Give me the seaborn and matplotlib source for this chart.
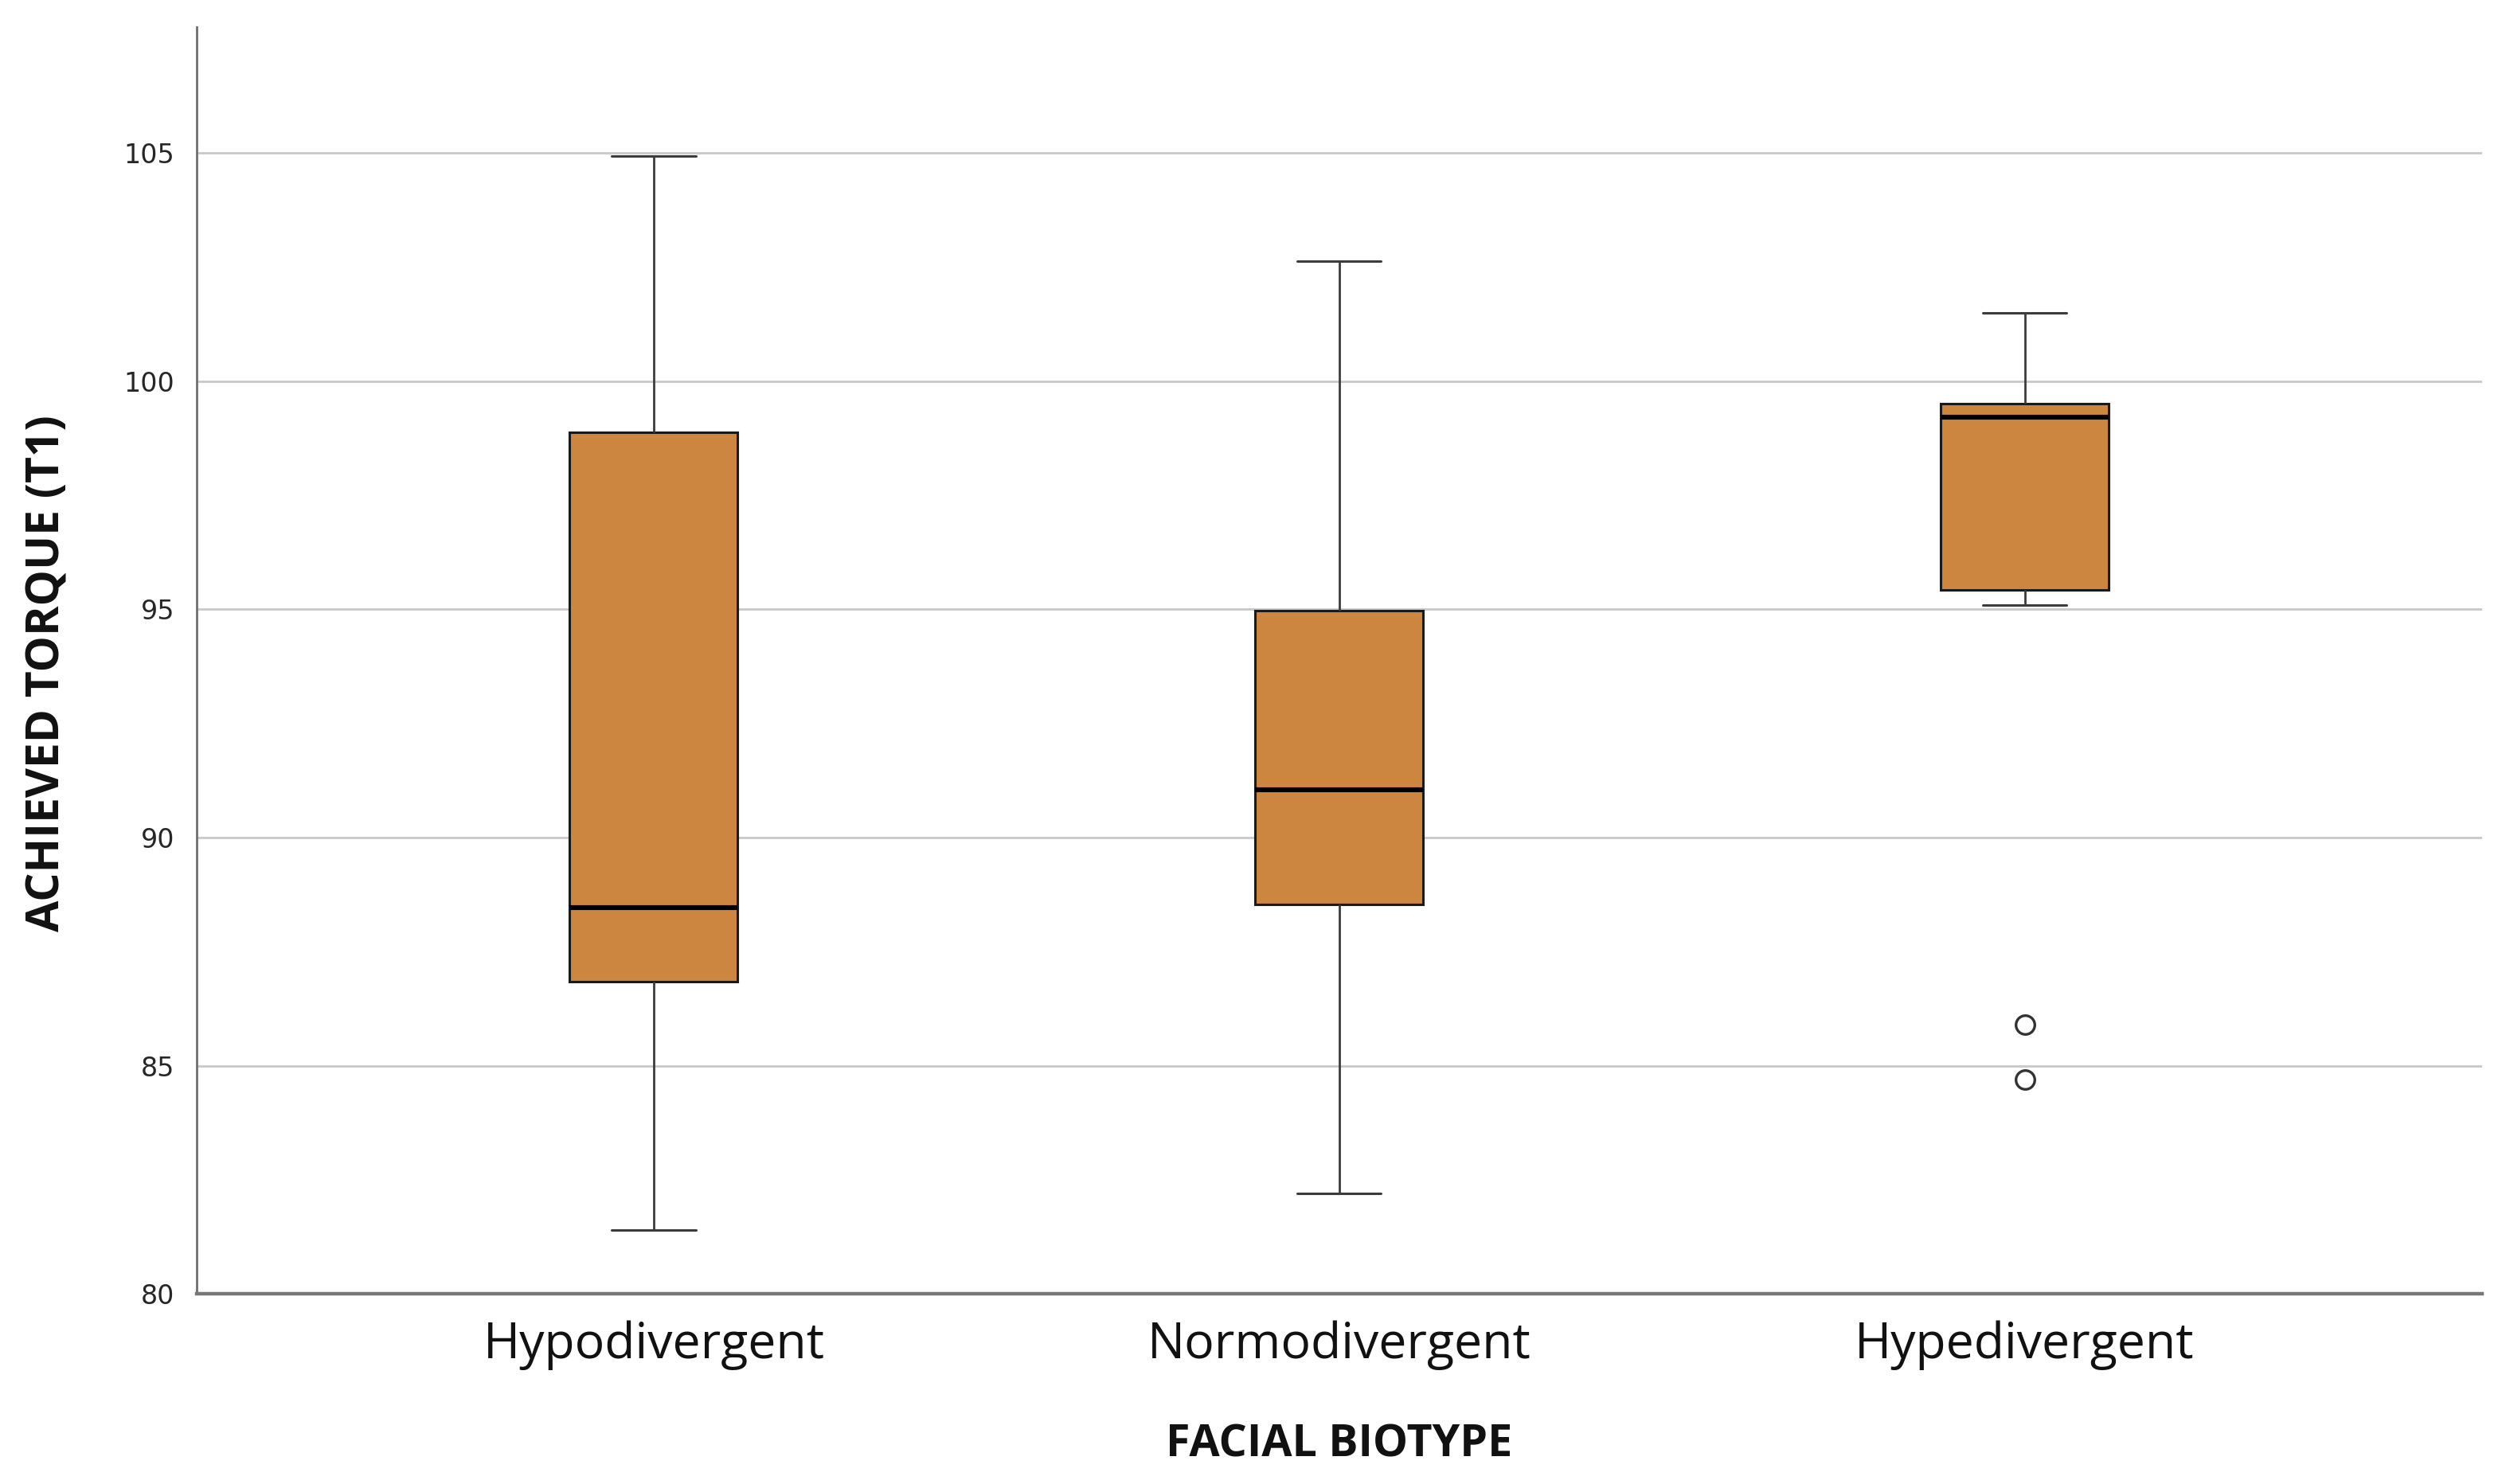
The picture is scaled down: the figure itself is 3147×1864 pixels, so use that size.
import pandas as pd
import matplotlib
matplotlib.use("Agg")
import matplotlib.pyplot as plt
import seaborn as sns

# values
categories = ["Hypodivergent", "Normodivergent", "Hypedivergent"]
whisker_low = [81.4, 82.2, 95.1]
q1 = [86.85, 88.53, 95.42]
median = [88.46, 91.05, 99.2]
q3 = [98.88, 94.97, 99.51]
whisker_high = [104.93, 102.62, 101.5]
outlier_group = ["Hypedivergent", "Hypedivergent"]
outlier_values = [85.9, 84.69]
y_ticks = [80, 85, 90, 95, 100, 105]

# five-number summary per group, in long form for seaborn
rows = []
for i, cat in enumerate(categories):
    for v in [whisker_low[i], q1[i], median[i], q3[i], whisker_high[i]]:
        rows.append({"biotype": cat, "torque": v})
df = pd.DataFrame(rows)

sns.set_theme(style="white")
plt.rcParams["font.family"] = ["Open Sans", "DejaVu Sans"]

fig = plt.figure(figsize=(3147 / 200, 1864 / 200), dpi=200)
ax = fig.add_axes([0.0784, 0.128, 0.912, 0.854])

sns.boxplot(data=df, x="biotype", y="torque", order=categories, whis=(0, 100),
            width=0.245, color="#cd863f", saturation=1, ax=ax,
            boxprops=dict(edgecolor="#1a1a1a", linewidth=1.1),
            medianprops=dict(color="black", linewidth=2.2),
            whiskerprops=dict(color="#3c3c3c", linewidth=1.0),
            capprops=dict(color="#3c3c3c", linewidth=1.1),
            zorder=3)

sns.stripplot(x=outlier_group, y=outlier_values, order=categories, jitter=False,
              color="white", edgecolor="#333333", linewidth=1.2, size=8.5,
              ax=ax, zorder=4)

ax.set_ylim(80, 107.76)
ax.set_xlim(-0.667, 2.667)
ax.set_yticks(y_ticks)
ax.set_yticklabels([str(t) for t in y_ticks], fontsize=12, family="DejaVu Sans")
ax.tick_params(axis="x", labelsize=22.5, length=0, pad=12)
ax.tick_params(axis="y", length=0, pad=10)
for lab in ax.get_xticklabels():
    lab.set_color("#111111")

ax.yaxis.grid(True, color="#c8c8c8", linewidth=1.0, zorder=0)
ax.set_axisbelow(True)

for s in ["top", "right"]:
    ax.spines[s].set_visible(False)
ax.spines["left"].set_color("#6e6e6e")
ax.spines["left"].set_linewidth(1.0)
ax.spines["bottom"].set_color("#777777")
ax.spines["bottom"].set_linewidth(1.6)

ax.set_xlabel("FACIAL BIOTYPE", fontsize=20, fontweight="bold", labelpad=24, color="#111111")
ax.set_ylabel("ACHIEVED TORQUE (T1)", fontsize=20.5, fontweight="bold", labelpad=24, color="#111111")
ax.yaxis.set_label_coords(-0.055, 0.49)

fig.savefig("out.png", dpi=200, facecolor="white")
